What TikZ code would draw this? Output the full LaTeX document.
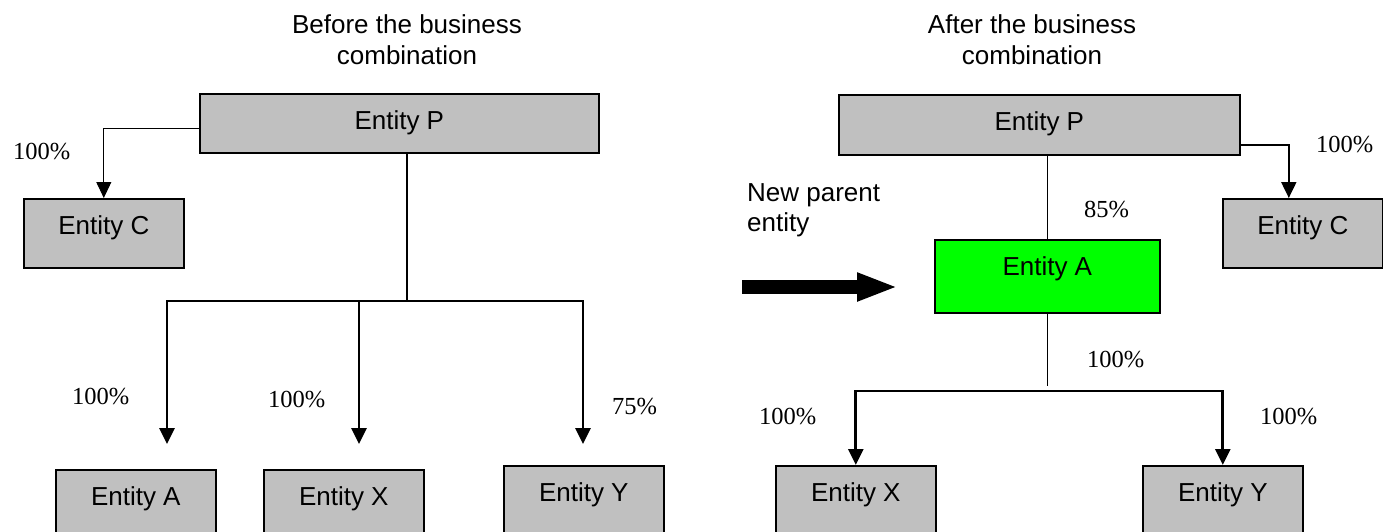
\documentclass[tikz,border=0pt]{standalone}
\usepackage{fontspec}
\setmainfont{Liberation Serif}
\setsansfont{Liberation Sans}
\usetikzlibrary{arrows.meta}
\definecolor{boxgray}{HTML}{C0C0C0}
\definecolor{newgreen}{HTML}{00FF00}
\tikzset{entity/.style={draw, fill=boxgray, line width=1.6pt, anchor=north west,
  inner xsep=0pt, inner ysep=0pt, text height=36pt, font=\sffamily\fontsize{26}{31}\selectfont}}
\tikzset{pct/.style={anchor=base west, inner sep=0pt, font=\rmfamily\fontsize{24.5}{29}\selectfont}}
\tikzset{caption/.style={anchor=north, inner sep=0pt, align=center, font=\sffamily\fontsize{26}{31}\selectfont}}
\tikzset{link/.style={line width=1.5pt}}
\tikzset{thinlink/.style={line width=1pt, -{Triangle[length=16pt,width=15pt]}}}
\tikzset{arrowlink/.style={line width=2.8pt, -{Triangle[length=16pt,width=15pt]}}}
\tikzset{pointer/.style={line width=14pt, -{Triangle[length=41pt,width=26pt]}}}

\begin{document}
\begin{tikzpicture}[x=1pt,y=-1pt]
\useasboundingbox (0,0) rectangle (1383,532);
\clip (0,0) rectangle (1383,532);
% before
\node[caption] (before) at (407,14.5) {Before the business\\combination};
\node[entity, minimum width=399pt, text depth=23pt] (P1) at (199,93) {Entity P};
\node[entity, minimum width=160pt, text depth=33pt] (C1) at (23,198) {Entity C};
\node[entity, minimum width=160pt, text depth=80pt] (A1) at (55,469) {Entity A};
\node[entity, minimum width=160pt, text depth=80pt] (X1) at (263,469) {Entity X};
\node[entity, minimum width=160pt, text depth=80pt] (Y1) at (503,465) {Entity Y};
\coordinate (busL) at (407,301);
\coordinate (a1in) at (167,444);
\coordinate (x1in) at (359,444);
\coordinate (y1in) at (583,444);
\draw[thinlink] ([yshift=-5pt]P1.west) -| (C1.north);
\draw[link] (P1.south -| busL) -- (busL);
\draw[arrowlink] (busL) -| (a1in);
\draw[arrowlink] (busL) -| (x1in);
\draw[arrowlink] (busL) -| (y1in);
\node[pct] (pc1) at (13,159) {100\%};
\node[pct] (pa1) at (72,404) {100\%};
\node[pct] (px1) at (268,407) {100\%};
\node[pct] (py1) at (612,414) {75\%};
% after
\node[caption] (after) at (1032,14.5) {After the business\\combination};
\node[entity, minimum width=401pt, text depth=24pt] (P2) at (838,94) {Entity P};
\node[entity, minimum width=160pt, text depth=33pt] (C2) at (1222,198) {Entity C};
\node[entity, fill=newgreen, minimum width=225pt, text depth=37pt] (A2) at (934,239) {Entity A};
\node[entity, minimum width=160pt, text depth=80pt] (X2) at (775,465) {Entity X};
\node[entity, minimum width=160pt, text depth=80pt] (Y2) at (1142,465) {Entity Y};
\coordinate (busR) at (1046.5,391);
\draw[arrowlink, line width=2pt] ([yshift=-20pt]P2.east) -| ([xshift=-14pt]C2.north);
\draw[link] (A2.north |- P2.south) -- (A2.north);
\draw[link] (A2.south) -- ([yshift=5pt]A2.south |- busR);
\draw[arrowlink] (busR) -| (X2.north);
\draw[arrowlink] (busR) -| (Y2.north);
\node[pct] (pc2) at (1316,152) {100\%};
\node[pct] (pa2) at (1084,217) {85\%};
\node[pct] (pbus) at (1087,367) {100\%};
\node[pct] (px2) at (759,424) {100\%};
\node[pct] (py2) at (1260,424) {100\%};
% new parent pointer
\node[anchor=north west, inner sep=0pt, align=left, font=\sffamily\fontsize{26}{30}\selectfont]
  (newparent) at (747,183.5) {New parent\\entity};
\coordinate (ptrtail) at (742,287);
\coordinate (ptrhead) at (898,287);
\draw[pointer] (ptrtail) -- (ptrhead);
\end{tikzpicture}
\end{document}
